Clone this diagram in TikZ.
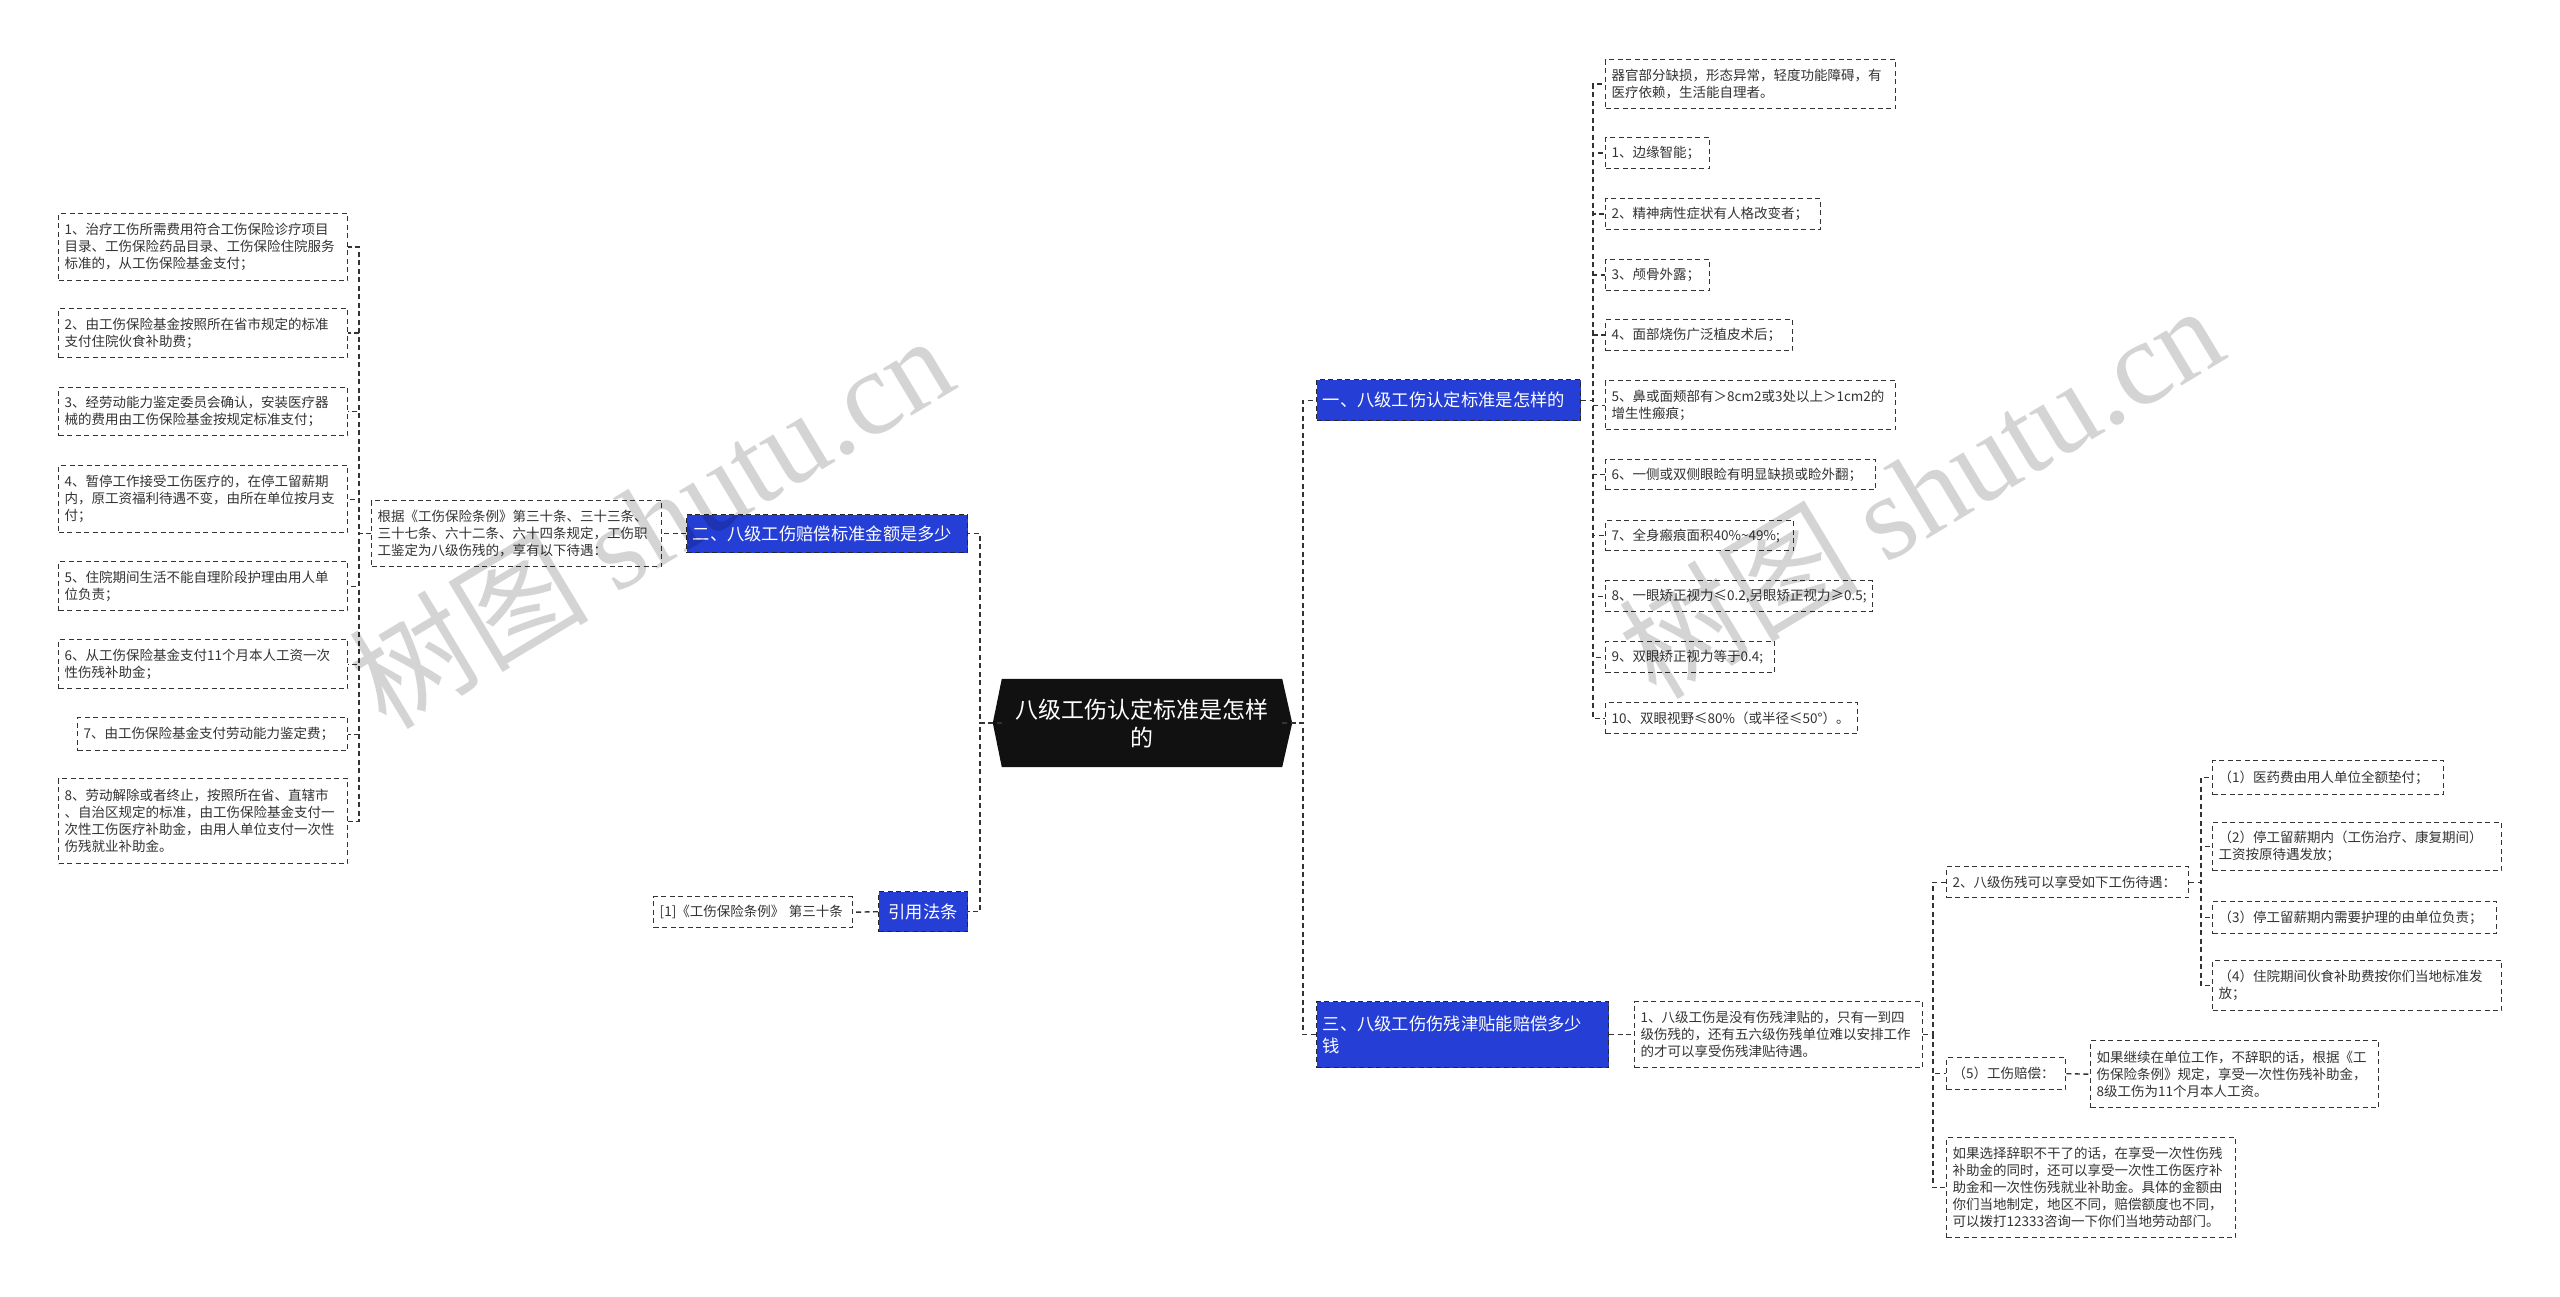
\documentclass[tikz,border=0pt]{standalone}
\usepackage{fontspec}
\setmainfont{Noto Sans CJK SC}
\newfontfamily\wmserif{Liberation Serif}
\usetikzlibrary{backgrounds}
\definecolor{bluefill}{RGB}{36,62,214}
\definecolor{rootfill}{RGB}{17,17,17}
\definecolor{ink}{RGB}{51,51,51}
\newcommand\mkbox[7]{%
  \pgfmathsetmacro\mktw{#5-12}%
  \node[#2, anchor=north west, minimum width=#5pt, minimum height=#6pt, text width=\mktw pt] (#1) at (#3,#4) {#7};}
\begin{document}
\begin{tikzpicture}[x=1pt,y=-1pt,
  dsh/.style={line width=1.4pt, dash pattern=on 5pt off 3.5pt, draw=ink},
  leaf/.style={dsh, fill=white, text=ink, font=\fontsize{13.5}{17}\selectfont, align=left, inner xsep=6pt, inner ysep=0pt},
  topic/.style={dsh, draw=black!85, fill=bluefill, text=white, font=\fontsize{17.3}{22}\selectfont, align=left, inner xsep=6pt, inner ysep=0pt},
  roottxt/.style={text=white, font=\fontsize{23}{28}\selectfont, align=center, minimum width=280pt, minimum height=88pt, inner sep=0pt},
  conn/.style={dsh},
  wm/.style={text=black, opacity=0.17, font=\fontsize{120}{120}\selectfont, inner sep=0pt}
]
\useasboundingbox (0,0) rectangle (2560,1297);

% trunk x positions
\coordinate (tL) at (980,0);
\coordinate (tR) at (1303,0);
\coordinate (tI) at (359,0);
\coordinate (tA) at (1593,0);
\coordinate (tB) at (1933,0);
\coordinate (tC) at (2201,0);

% root
\node[roottxt] (root) at (1142,723) {八级工伤认定标准是怎样\\的};

% main topics
\mkbox{t2}{topic}{686}{514}{281}{38}{二、八级工伤赔偿标准金额是多少}
\mkbox{tref}{topic, align=center}{878}{891}{89}{40}{引用法条}
\mkbox{t1}{topic}{1316}{379}{264}{41}{一、八级工伤认定标准是怎样的}
\mkbox{t3}{topic}{1316}{1001}{292}{66}{三、八级工伤伤残津贴能赔偿多少\\钱}

% left side
\mkbox{gj}{leaf}{371}{500}{290}{66}{根据《工伤保险条例》第三十条、三十三条、\\三十七条、六十二条、六十四条规定，工伤职\\工鉴定为八级伤残的，享有以下待遇：}
\mkbox{ref1}{leaf}{653}{896}{199}{31}{[1]《工伤保险条例》 第三十条}

\mkbox{i1}{leaf}{58}{213}{289}{67}{1、治疗工伤所需费用符合工伤保险诊疗项目\\目录、工伤保险药品目录、工伤保险住院服务\\标准的，从工伤保险基金支付；}
\mkbox{i2}{leaf}{58}{308}{289}{49}{2、由工伤保险基金按照所在省市规定的标准\\支付住院伙食补助费；}
\mkbox{i3}{leaf}{58}{387}{289}{48}{3、经劳动能力鉴定委员会确认，安装医疗器\\械的费用由工伤保险基金按规定标准支付；}
\mkbox{i4}{leaf}{58}{465}{289}{67}{4、暂停工作接受工伤医疗的，在停工留薪期\\内，原工资福利待遇不变，由所在单位按月支\\付；}
\mkbox{i5}{leaf}{58}{561}{289}{49}{5、住院期间生活不能自理阶段护理由用人单\\位负责；}
\mkbox{i6}{leaf}{58}{639}{289}{49}{6、从工伤保险基金支付11个月本人工资一次\\性伤残补助金；}
\mkbox{i7}{leaf}{77}{717}{270}{33}{7、由工伤保险基金支付劳动能力鉴定费；}
\mkbox{i8}{leaf}{58}{778}{289}{85}{8、劳动解除或者终止，按照所在省、直辖市\\、自治区规定的标准，由工伤保险基金支付一\\次性工伤医疗补助金，由用人单位支付一次性\\伤残就业补助金。}

% right upper
\mkbox{r0}{leaf}{1605}{59}{290}{49}{器官部分缺损，形态异常，轻度功能障碍，有\\医疗依赖，生活能自理者。}
\mkbox{r1}{leaf}{1605}{137}{104}{31}{1、边缘智能；}
\mkbox{r2}{leaf}{1605}{198}{215}{31}{2、精神病性症状有人格改变者；}
\mkbox{r3}{leaf}{1605}{259}{104}{31}{3、颅骨外露；}
\mkbox{r4}{leaf}{1605}{319}{187}{31}{4、面部烧伤广泛植皮术后；}
\mkbox{r5}{leaf}{1605}{380}{290}{49}{5、鼻或面颊部有＞8cm2或3处以上＞1cm2的\\增生性瘢痕；}
\mkbox{r6}{leaf}{1605}{459}{270}{30}{6、一侧或双侧眼睑有明显缺损或睑外翻；}
\mkbox{r7}{leaf}{1605}{520}{188}{30}{7、全身瘢痕面积40\%\textasciitilde49\%;}
\mkbox{r8}{leaf}{1605}{580}{267}{31}{8、一眼矫正视力≤0.2,另眼矫正视力≥0.5;}
\mkbox{r9}{leaf}{1605}{641}{169}{31}{9、双眼矫正视力等于0.4;}
\mkbox{r10}{leaf}{1605}{702}{252}{31}{10、双眼视野≤80\%（或半径≤50°）。}

% right lower
\mkbox{a1}{leaf}{1634}{1001}{288}{66}{1、八级工伤是没有伤残津贴的，只有一到四\\级伤残的，还有五六级伤残单位难以安排工作\\的才可以享受伤残津贴待遇。}
\mkbox{b2}{leaf}{1946}{866}{242}{31}{2、八级伤残可以享受如下工伤待遇：}
\mkbox{b5}{leaf}{1946}{1057}{119}{32}{（5）工伤赔偿：}
\mkbox{b6}{leaf}{1946}{1137}{289}{100}{如果选择辞职不干了的话，在享受一次性伤残\\补助金的同时，还可以享受一次性工伤医疗补\\助金和一次性伤残就业补助金。具体的金额由\\你们当地制定，地区不同，赔偿额度也不同，\\可以拨打12333咨询一下你们当地劳动部门。}
\mkbox{c5}{leaf}{2090}{1040}{288}{67}{如果继续在单位工作，不辞职的话，根据《工\\伤保险条例》规定，享受一次性伤残补助金，\\8级工伤为11个月本人工资。}
\mkbox{d1}{leaf}{2212}{760}{231}{34}{（1）医药费由用人单位全额垫付；}
\mkbox{d2}{leaf}{2212}{822}{289}{48}{（2）停工留薪期内（工伤治疗、康复期间）\\工资按原待遇发放；}
\mkbox{d3}{leaf}{2212}{901}{284}{32}{（3）停工留薪期内需要护理的由单位负责；}
\mkbox{d4}{leaf}{2212}{960}{289}{50}{（4）住院期间伙食补助费按你们当地标准发\\放；}

% connectors
\foreach \c in {t2,tref} \draw[conn] (root.west) -- (root.west -| tL) |- (\c.east);
\foreach \c in {t1,t3} \draw[conn] (root.east) -- (root.east -| tR) |- (\c.west);
\draw[conn] (t2.west) -- (gj.east);
\draw[conn] (tref.west) -- (ref1.east);
\foreach \c in {i1,i2,i3,i4,i5,i6,i7,i8} \draw[conn] (gj.west) -- (gj.west -| tI) |- (\c.east);
\foreach \c in {r0,r1,r2,r3,r4,r5,r6,r7,r8,r9,r10} \draw[conn] (t1.east) -- (t1.east -| tA) |- (\c.west);
\draw[conn] (t3.east) -- (a1.west);
\foreach \c in {b2,b5,b6} \draw[conn] (a1.east) -- (a1.east -| tB) |- (\c.west);
\draw[conn] (b5.east) -- (c5.west);
\foreach \c in {d1,d2,d3,d4} \draw[conn] (b2.east) -- (b2.east -| tC) |- (\c.west);

% watermark
\node[wm, rotate=31] (wm1) at (650,520) {树图 {\wmserif shutu.cn}};
\node[wm, rotate=31] (wm2) at (1920,490) {树图 {\wmserif shutu.cn}};

\begin{scope}[on background layer]
  \fill[white] (0,0) rectangle (2560,1297);
  \fill[rootfill] (root.north west) -- (root.north east) -- ([xshift=10pt]root.east) -- (root.south east) -- (root.south west) -- ([xshift=-9pt]root.west) -- cycle;
\end{scope}
\end{tikzpicture}
\end{document}
